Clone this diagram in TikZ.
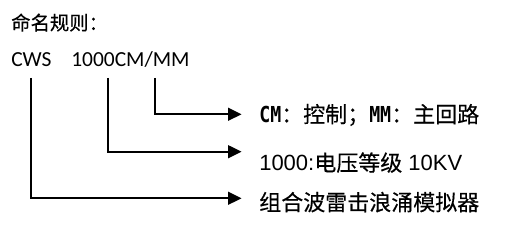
\documentclass[tikz,border=0pt]{standalone}
\usepackage{fontspec}
\usetikzlibrary{arrows.meta}
\newfontfamily\cjk[FakeBold=0.35]{Noto Sans CJK SC}
\newfontfamily\calfont{Carlito}
\newfontfamily\arialfont{Liberation Sans}
\newfontfamily\narrowmono[FakeStretch=0.83]{DejaVu Sans Mono}

\tikzset{
  labeltext/.style={anchor=base west,inner sep=0pt,font=\cjk\fontsize{16.5}{18}\selectfont},
  codetext/.style={anchor=base west,inner sep=0pt,font=\calfont\fontsize{16.1}{18}\selectfont},
  conn/.style={line width=1.5pt,-{Triangle[length=10pt,width=9.5pt]}}
}

\begin{document}
\begin{tikzpicture}[x=0.75pt,y=-0.75pt]
\useasboundingbox (0,0) rectangle (507,242);

% title and code
\node[anchor=base west,inner sep=0pt,font=\cjk\fontsize{14.5}{16}\selectfont] (title) at (11,30) {命名规则：};
\node[codetext] (cws) at (11,67) {CWS};
\node[codetext] (spec) at (71,67) {1000CM/MM};

% where the lines start and end
\coordinate (top1) at (30.5,78);
\coordinate (top2) at (108.3,78);
\coordinate (top3) at (155,78);
\coordinate (tip1) at (241.5,198.3);
\coordinate (tip2) at (241.5,151.7);
\coordinate (tip3) at (241.5,114.3);

% meanings
\node[labeltext] (mode) at (259,122.5) {{\narrowmono\bfseries CM}：控制；{\narrowmono\bfseries MM}：主回路};
\node[labeltext] (volt) at (259,171) {{\arialfont 1000:}电压等级{\arialfont\ 10KV}};
\node[labeltext] (kind) at (259,210.5) {组合波雷击浪涌模拟器};

\draw[conn] (top3) |- (tip3);
\draw[conn] (top2) |- (tip2);
\draw[conn] (top1) |- (tip1);
\end{tikzpicture}
\end{document}
